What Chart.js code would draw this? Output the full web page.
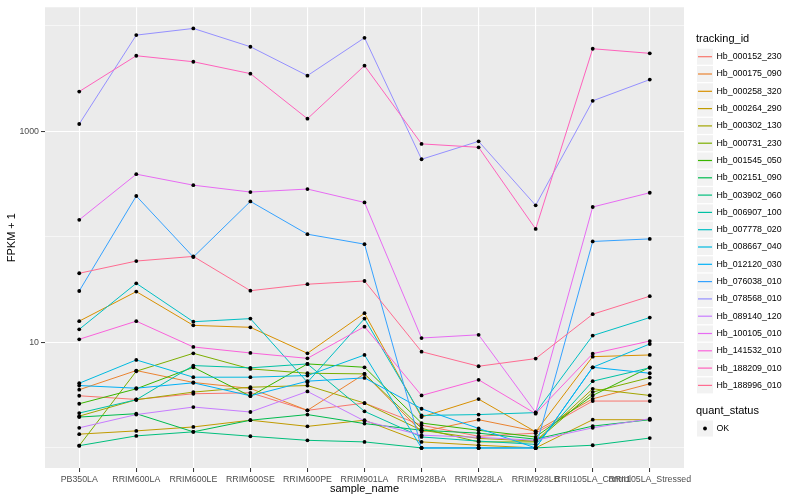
<!DOCTYPE html>
<html lang="en">
<head>
    <meta charset="UTF-8">
    <title>FPKM by sample</title>
    <style>
        html, body {
            margin: 0;
            padding: 0;
            background-color: #ffffff;
            overflow: hidden;
        }
        #chart {
            display: block;
        }
    </style>
</head>
<body>
    <canvas id="chart" width="800" height="500" style="width:800px;height:500px"></canvas>

    <script src="https://cdn.jsdelivr.net/npm/chart.js"></script>
    <script>
        // samples on the x axis
        const sampleNames = ['PB350LA', 'RRIM600LA', 'RRIM600LE', 'RRIM600SE', 'RRIM600PE', 'RRIM901LA',
            'RRIM928BA', 'RRIM928LA', 'RRIM928LB', 'RRII105LA_Control', 'RRII105LA_Stressed'];

        const trackingIds = ['Hb_000152_230', 'Hb_000175_090', 'Hb_000258_320', 'Hb_000264_290', 'Hb_000302_130',
            'Hb_000731_230', 'Hb_001545_050', 'Hb_002151_090', 'Hb_003902_060', 'Hb_006907_100',
            'Hb_007778_020', 'Hb_008667_040', 'Hb_012120_030', 'Hb_076038_010', 'Hb_078568_010',
            'Hb_089140_120', 'Hb_100105_010', 'Hb_141532_010', 'Hb_188209_010', 'Hb_188996_010'];

        // FPKM + 1, one value per sample
        const hb_000152_230 = [3.12, 2.88, 3.26, 3.33, 2.27, 2.66, 1.64, 1.29, 1.38, 2.78, 2.78];
        const hb_000175_090 = [3.56, 5.41, 4.17, 3.66, 2.27, 5.03, 1.42, 1.85, 1.44, 2.92, 4.05];
        const hb_000258_320 = [15.9, 30.3, 14.5, 13.9, 7.88, 18.9, 1.96, 2.90, 1.42, 7.33, 7.60];
        const hb_000264_290 = [1.35, 1.45, 1.58, 1.83, 1.60, 1.83, 1.14, 1.06, 1.0, 1.85, 1.85];
        const hb_000302_130 = [2.00, 2.86, 3.38, 3.76, 3.90, 2.66, 1.47, 1.23, 1.16, 3.63, 3.14];
        const hb_000731_230 = [1.05, 5.33, 7.88, 5.61, 5.10, 5.03, 1.53, 1.14, 1.14, 3.38, 4.64];
        const hb_001545_050 = [2.62, 3.63, 5.81, 3.09, 6.25, 5.81, 1.72, 1.47, 1.27, 3.14, 5.81];
        const hb_002151_090 = [1.96, 2.11, 1.42, 1.83, 2.07, 1.70, 1.47, 1.38, 1.21, 1.61, 1.85];
        const hb_003902_060 = [1.05, 1.30, 1.42, 1.29, 1.18, 1.14, 1.0, 1.0, 1.0, 1.06, 1.24];
        const hb_006907_100 = [2.14, 2.86, 6.03, 5.74, 6.25, 2.22, 1.27, 1.16, 1.08, 4.29, 5.74];
        const hb_007778_020 = [13.3, 36.3, 15.7, 16.8, 4.19, 16.8, 2.03, 2.07, 2.16, 11.6, 17.2];
        const hb_008667_040 = [4.10, 6.82, 4.68, 4.68, 4.85, 7.60, 1.0, 1.0, 1.0, 5.81, 9.66];
        const hb_012120_030 = [3.90, 3.68, 4.14, 3.12, 4.29, 4.61, 2.35, 1.53, 1.0, 5.81, 5.10];
        const hb_076038_010 = [30.7, 244, 64.4, 217, 106, 85.3, 1.0, 1.0, 1.0, 90.5, 95.7];
        const hb_078568_010 = [1174, 8170, 9450, 6340, 3375, 7710, 544, 805, 199, 1948, 3095];
        const hb_089140_120 = [1.55, 2.07, 2.44, 2.19, 3.43, 1.80, 1.32, 1.26, 1.18, 1.55, 1.89];
        const hb_100105_010 = [145, 393, 309, 266, 284, 212, 11.0, 11.8, 2.17, 192, 262];
        const hb_141532_010 = [10.7, 15.9, 9.05, 7.94, 7.06, 14.1, 3.14, 4.42, 2.11, 7.82, 10.3];
        const hb_188209_010 = [2385, 5210, 4570, 3525, 1318, 4195, 761, 706, 119, 6070, 5490];
        const hb_188996_010 = [45.2, 59.0, 65.3, 30.9, 35.6, 38.2, 8.17, 5.94, 7.02, 18.5, 27.4];

        const seriesValues = [hb_000152_230, hb_000175_090, hb_000258_320, hb_000264_290, hb_000302_130,
            hb_000731_230, hb_001545_050, hb_002151_090, hb_003902_060, hb_006907_100,
            hb_007778_020, hb_008667_040, hb_012120_030, hb_076038_010, hb_078568_010,
            hb_089140_120, hb_100105_010, hb_141532_010, hb_188209_010, hb_188996_010];

        const yTickValues = [1, 10, 100, 1000, 10000];
        const yTickLabels = [10, 1000];

        // ggplot hue palette, 20 levels
        const palette = ['#F8766D', '#EA8331', '#D89000', '#C09B00', '#A3A500', '#7CAE00', '#39B600', '#00BB4E',
            '#00BF7D', '#00C1A3', '#00BFC4', '#00BAE0', '#00B0F6', '#35A2FF', '#9590FF', '#C77CFF',
            '#E76BF3', '#FA62DB', '#FF62BC', '#FF6C91'];

        const FONT = '"Liberation Sans", Arial, sans-serif';

        const panelPlugin = {
            id: 'panel',
            beforeDraw(chart) {
                const { ctx, chartArea: a } = chart;
                ctx.save();
                ctx.fillStyle = '#EBEBEB';
                ctx.fillRect(a.left, a.top, a.right - a.left, a.bottom - a.top);
                ctx.restore();
            }
        };

        // axis titles and the two ggplot style legends
        const decorPlugin = {
            id: 'decor',
            afterDraw(chart) {
                const { ctx, chartArea: a } = chart;
                ctx.save();
                ctx.fillStyle = '#000000';
                ctx.font = '11px ' + FONT;
                ctx.textAlign = 'center';
                ctx.textBaseline = 'middle';
                ctx.fillText('sample_name', (a.left + a.right) / 2, 489);

                ctx.save();
                ctx.translate(12, (a.top + a.bottom) / 2);
                ctx.rotate(-Math.PI / 2);
                ctx.fillText('FPKM + 1', 0, 0);
                ctx.restore();

                const keyX = 697, labelX = 716.5, step = 17.3, firstY = 56.7;
                ctx.textAlign = 'left';
                ctx.fillText('tracking_id', 696, 39);

                ctx.font = '8.8px ' + FONT;
                trackingIds.forEach((id, i) => {
                    const y = firstY + i * step;
                    ctx.fillStyle = '#F2F2F2';
                    ctx.fillRect(keyX, y - 8, 16, 16);
                    ctx.strokeStyle = palette[i];
                    ctx.lineWidth = 1.2;
                    ctx.beginPath();
                    ctx.moveTo(keyX + 1, y);
                    ctx.lineTo(keyX + 15, y);
                    ctx.stroke();
                    ctx.fillStyle = '#000000';
                    ctx.fillText(id, labelX, y);
                });

                ctx.font = '11px ' + FONT;
                ctx.fillText('quant_status', 696, 411);
                const okY = 428.5;
                ctx.fillStyle = '#F2F2F2';
                ctx.fillRect(keyX, okY - 8, 16, 16);
                ctx.fillStyle = '#000000';
                ctx.beginPath();
                ctx.arc(keyX + 8, okY, 1.9, 0, Math.PI * 2);
                ctx.fill();
                ctx.font = '8.8px ' + FONT;
                ctx.fillText('OK', labelX, okY);
                ctx.restore();
            }
        };

        const toPoints = vals => vals.map((v, i) => ({ x: i, y: v }));

        // lines first (later ids on top), then every point above all lines
        const lineSets = seriesValues.map((vals, k) => ({
            label: trackingIds[k],
            data: toPoints(vals),
            borderColor: palette[k],
            backgroundColor: palette[k],
            borderWidth: 1,
            pointRadius: 0,
            tension: 0,
            fill: false,
            order: 100 - k
        }));

        const pointSets = seriesValues.map((vals, k) => ({
            label: trackingIds[k] + ' OK',
            data: toPoints(vals),
            showLine: false,
            pointRadius: 1.9,
            pointBackgroundColor: '#000000',
            pointBorderWidth: 0,
            order: 0
        }));

        new Chart(document.getElementById('chart'), {
            type: 'line',
            data: { datasets: [...lineSets, ...pointSets] },
            plugins: [panelPlugin, decorPlugin],
            options: {
                responsive: false,
                animation: false,
                events: [],
                layout: { padding: { left: 0, top: 5, right: 116, bottom: 0 } },
                plugins: {
                    legend: { display: false },
                    tooltip: { enabled: false },
                    title: { display: false }
                },
                scales: {
                    x: {
                        type: 'linear',
                        min: -0.6,
                        max: 10.6,
                        bounds: 'data',
                        afterBuildTicks(scale) {
                            scale.ticks = sampleNames.map((n, i) => ({ value: i }));
                        },
                        afterFit(scale) {
                            scale.height = 32;
                        },
                        grid: {
                            color: '#FFFFFF',
                            lineWidth: 1.1,
                            tickColor: '#333333',
                            tickWidth: 1,
                            tickLength: 4
                        },
                        border: { display: false },
                        ticks: {
                            autoSkip: false,
                            maxRotation: 0,
                            minRotation: 0,
                            padding: 2,
                            color: '#4D4D4D',
                            font: { family: FONT, size: 8.8 },
                            callback: v => sampleNames[v]
                        }
                    },
                    y: {
                        type: 'logarithmic',
                        min: 0.645,
                        max: 15000,
                        bounds: 'data',
                        afterBuildTicks(scale) {
                            scale.ticks = yTickValues.map(v => ({ value: v }));
                        },
                        afterFit(scale) {
                            scale.width = 45;
                        },
                        grid: {
                            color: '#FFFFFF',
                            lineWidth: c => yTickLabels.includes(c.tick && c.tick.value) ? 1.1 : 0.55,
                            tickColor: c => yTickLabels.includes(c.tick && c.tick.value) ? '#333333' : 'rgba(0,0,0,0)',
                            tickWidth: 1,
                            tickLength: 4
                        },
                        border: { display: false },
                        ticks: {
                            padding: 2,
                            color: '#4D4D4D',
                            font: { family: FONT, size: 8.8 },
                            callback: v => yTickLabels.includes(v) ? String(v) : ''
                        }
                    }
                }
            }
        });
    </script>
</body>
</html>
